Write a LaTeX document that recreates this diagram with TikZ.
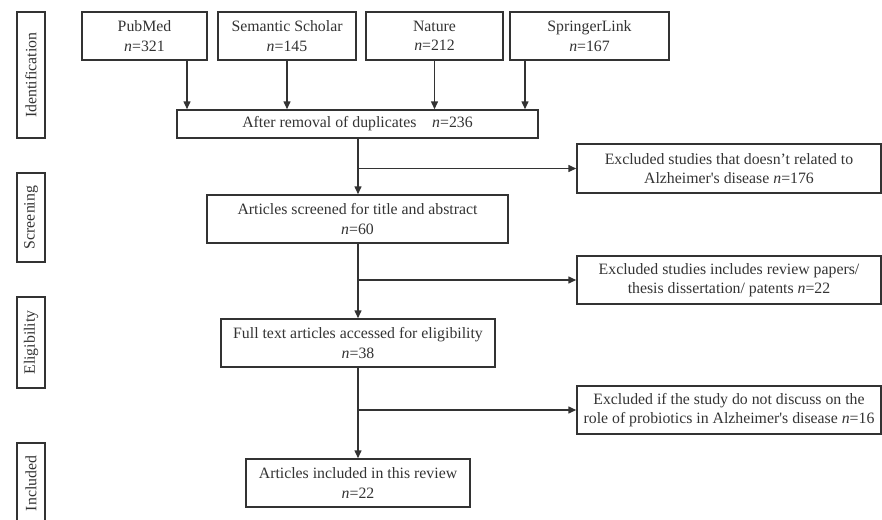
\documentclass[tikz,border=0pt]{standalone}
\usepackage{fontspec}
\setmainfont{Liberation Serif}
\usetikzlibrary{arrows.meta}
\definecolor{ink}{HTML}{333333}
\begin{document}
\begin{tikzpicture}[x=1pt,y=-1pt,
  every node/.style={font=\fontsize{15.8}{19.5}\selectfont, text=ink},
  box/.style={draw=ink, line width=1.5pt, rectangle, inner sep=0pt, align=center},
  stage/.style={draw=ink, line width=1.5pt, rectangle, inner sep=0pt, rotate=90, minimum height=28pt},
  arr/.style={draw=ink, line width=1.5pt, -{Triangle[length=8pt,width=7pt]}},
  ln/.style={draw=ink, line width=1.5pt}]
\useasboundingbox (0,0) rectangle (882,519);
\clip (0,0) rectangle (882,519);

% stage labels
\node[stage, minimum width=126pt] (sid) at (31,75) {Identification};
\node[stage, minimum width=89pt] (ssc) at (31,217.5) {Screening};
\node[stage, minimum width=91pt] (sel) at (31,342.5) {Eligibility};
\node[stage, minimum width=81pt] (sin) at (31,483.5) {Included};

% sources
\node[box, minimum width=125pt, minimum height=48pt] (pm) at (144.5,36) {PubMed\\\textit{n}=321};
\node[box, minimum width=138pt, minimum height=48pt] (ss) at (287,36) {Semantic Scholar\\\textit{n}=145};
\node[box, minimum width=137pt, minimum height=48pt] (na) at (434.5,36) {Nature\\\textit{n}=212};
\node[box, minimum width=159pt, minimum height=48pt] (sl) at (589.5,36) {SpringerLink\\\textit{n}=167};

% main flow
\node[box, minimum width=361pt, minimum height=28pt] (dup) at (357.5,124) {After removal of duplicates\quad\textit{n}=236};
\node[box, minimum width=301pt, minimum height=48pt] (scr) at (357.5,219) {Articles screened for title and abstract\\\textit{n}=60};
\node[box, minimum width=274pt, minimum height=48pt] (full) at (358,343) {Full text articles accessed for eligibility\\\textit{n}=38};
\node[box, minimum width=224pt, minimum height=48pt] (inc) at (358,483) {Articles included in this review\\\textit{n}=22};

% exclusions
\node[box, minimum width=304pt, minimum height=49pt] (ex1) at (729,168.5) {Excluded studies that doesn’t related to\\Alzheimer\textquotesingle s disease \textit{n}=176};
\node[box, minimum width=304pt, minimum height=48pt] (ex2) at (729,280) {Excluded studies includes review papers/\\thesis dissertation/ patents \textit{n}=22};
\node[box, minimum width=304pt, minimum height=48pt] (ex3) at (729,410) {Excluded if the study do not discuss on the\\role of probiotics in Alzheimer\textquotesingle s disease \textit{n}=16};

% source arrows
\draw[arr] ([xshift=42.5pt]pm.south) -- ([xshift=42.5pt]pm.south |- dup.north);
\draw[arr] (ss.south) -- (ss.south |- dup.north);
\draw[arr] (na.south) -- (na.south |- dup.north);
\draw[arr] ([xshift=-64.5pt]sl.south) -- ([xshift=-64.5pt]sl.south |- dup.north);

% main arrows
\draw[arr] ([xshift=0.5pt]dup.south) -- ([xshift=0.5pt]dup.south |- scr.north);
\draw[arr] ([xshift=0.5pt]scr.south) -- ([xshift=0.5pt]scr.south |- full.north);
\draw[arr] (full.south) -- (inc.north);

% branch arrows
\draw[arr] ([xshift=0.5pt]dup.south |- ex1.west) -- (ex1.west);
\draw[arr] ([xshift=0.5pt]scr.south |- ex2.west) -- (ex2.west);
\draw[arr] (full.south |- ex3.west) -- (ex3.west);
\end{tikzpicture}
\end{document}
